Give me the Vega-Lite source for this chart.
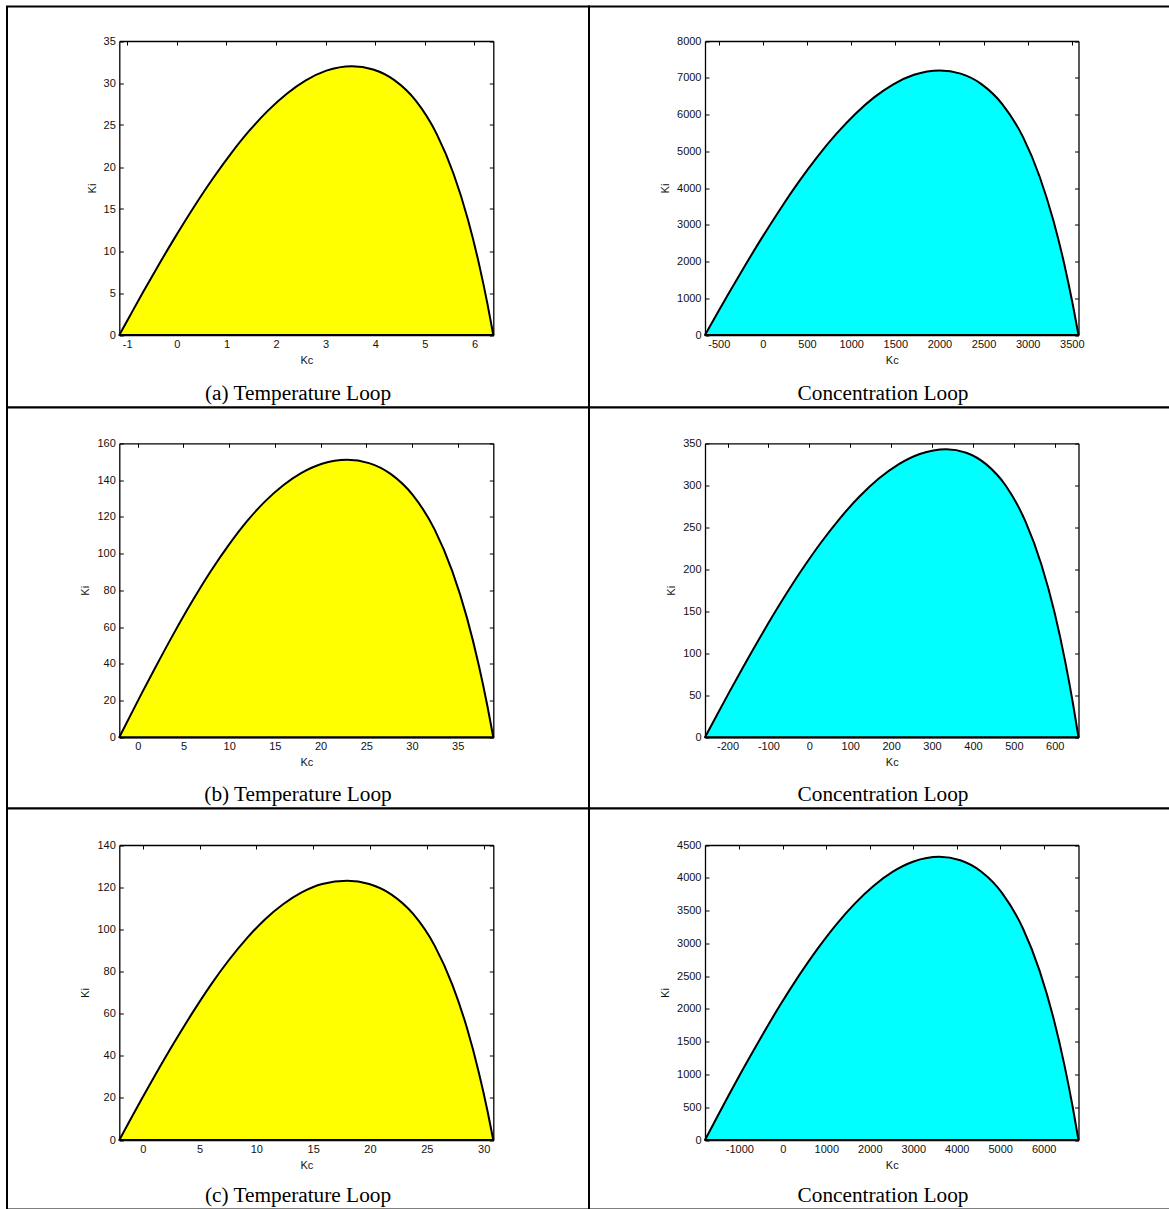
{
  "$schema": "https://vega.github.io/schema/vega-lite/v6.json",
  "padding": {"left": 6, "top": 5.5, "right": 0, "bottom": 0},
  "columns": 2,
  "spacing": 0,
  "bounds": "flush",
  "background": "white",
  "datasets": {
    "aT": [
      {"Kc": -1.16, "Ki": 0}, {"Kc": -0.925, "Ki": 2.51}, {"Kc": -0.691, "Ki": 4.99}, {"Kc": -0.41, "Ki": 7.9},
      {"Kc": -0.034, "Ki": 11.65}, {"Kc": 0.341, "Ki": 15.21}, {"Kc": 0.716, "Ki": 18.54}, {"Kc": 1.091, "Ki": 21.6},
      {"Kc": 1.466, "Ki": 24.35}, {"Kc": 1.842, "Ki": 26.74}, {"Kc": 2.217, "Ki": 28.73}, {"Kc": 2.592, "Ki": 30.29},
      {"Kc": 3.014, "Ki": 31.47}, {"Kc": 3.53, "Ki": 32.0}, {"Kc": 3.958, "Ki": 31.61}, {"Kc": 4.385, "Ki": 30.34},
      {"Kc": 4.813, "Ki": 27.93}, {"Kc": 5.24, "Ki": 23.92}, {"Kc": 5.582, "Ki": 19.14}, {"Kc": 5.867, "Ki": 13.78},
      {"Kc": 6.095, "Ki": 8.38}, {"Kc": 6.266, "Ki": 3.59}, {"Kc": 6.38, "Ki": 0}
    ],
    "aC": [
      {"Kc": -656, "Ki": 0}, {"Kc": -523, "Ki": 565}, {"Kc": -390, "Ki": 1123}, {"Kc": -230, "Ki": 1778},
      {"Kc": -17, "Ki": 2622}, {"Kc": 196, "Ki": 3423}, {"Kc": 408, "Ki": 4172}, {"Kc": 621, "Ki": 4861},
      {"Kc": 834, "Ki": 5478}, {"Kc": 1047, "Ki": 6016}, {"Kc": 1260, "Ki": 6465}, {"Kc": 1473, "Ki": 6816},
      {"Kc": 1712, "Ki": 7080}, {"Kc": 2005, "Ki": 7200}, {"Kc": 2241, "Ki": 7112}, {"Kc": 2476, "Ki": 6827},
      {"Kc": 2712, "Ki": 6285}, {"Kc": 2948, "Ki": 5383}, {"Kc": 3136, "Ki": 4307}, {"Kc": 3293, "Ki": 3100},
      {"Kc": 3419, "Ki": 1886}, {"Kc": 3513, "Ki": 808}, {"Kc": 3576, "Ki": 0}
    ],
    "bT": [
      {"Kc": -2.02, "Ki": 0}, {"Kc": -0.774, "Ki": 12.2}, {"Kc": 0.472, "Ki": 24.3}, {"Kc": 1.967, "Ki": 38.4},
      {"Kc": 3.961, "Ki": 56.7}, {"Kc": 5.954, "Ki": 74.0}, {"Kc": 7.948, "Ki": 90.1}, {"Kc": 9.942, "Ki": 104.6},
      {"Kc": 11.935, "Ki": 117.5}, {"Kc": 13.929, "Ki": 128.4}, {"Kc": 15.922, "Ki": 137.2}, {"Kc": 17.916, "Ki": 143.9},
      {"Kc": 20.159, "Ki": 148.9}, {"Kc": 22.9, "Ki": 151}, {"Kc": 25.3, "Ki": 149.2}, {"Kc": 27.7, "Ki": 143.2},
      {"Kc": 30.1, "Ki": 131.8}, {"Kc": 32.5, "Ki": 112.9}, {"Kc": 34.42, "Ki": 90.3}, {"Kc": 36.02, "Ki": 65.0},
      {"Kc": 37.3, "Ki": 39.5}, {"Kc": 38.26, "Ki": 16.9}, {"Kc": 38.9, "Ki": 0}
    ],
    "bC": [
      {"Kc": -255, "Ki": 0}, {"Kc": -225.5, "Ki": 26.9}, {"Kc": -196, "Ki": 53.5}, {"Kc": -160.6, "Ki": 84.7},
      {"Kc": -113.4, "Ki": 124.9}, {"Kc": -66.2, "Ki": 163.1}, {"Kc": -19, "Ki": 198.8}, {"Kc": 28.2, "Ki": 231.6},
      {"Kc": 75.4, "Ki": 261.0}, {"Kc": 122.6, "Ki": 286.6}, {"Kc": 169.8, "Ki": 308.0}, {"Kc": 217, "Ki": 324.7},
      {"Kc": 270.1, "Ki": 337.3}, {"Kc": 335, "Ki": 343}, {"Kc": 383.5, "Ki": 338.8}, {"Kc": 431.9, "Ki": 325.2},
      {"Kc": 480.4, "Ki": 299.4}, {"Kc": 528.8, "Ki": 256.4}, {"Kc": 567.6, "Ki": 205.2}, {"Kc": 599.9, "Ki": 147.7},
      {"Kc": 625.7, "Ki": 89.8}, {"Kc": 645.1, "Ki": 38.5}, {"Kc": 658, "Ki": 0}
    ],
    "cT": [
      {"Kc": -2.06, "Ki": 0}, {"Kc": -1.057, "Ki": 9.95}, {"Kc": -0.054, "Ki": 19.8}, {"Kc": 1.15, "Ki": 31.3},
      {"Kc": 2.754, "Ki": 46.1}, {"Kc": 4.359, "Ki": 60.2}, {"Kc": 5.964, "Ki": 73.4}, {"Kc": 7.569, "Ki": 85.3},
      {"Kc": 9.174, "Ki": 95.8}, {"Kc": 10.778, "Ki": 104.8}, {"Kc": 12.383, "Ki": 112.0}, {"Kc": 13.988, "Ki": 117.5},
      {"Kc": 15.793, "Ki": 121.5}, {"Kc": 18.0, "Ki": 123}, {"Kc": 19.93, "Ki": 121.5}, {"Kc": 21.86, "Ki": 116.6},
      {"Kc": 23.78, "Ki": 107.4}, {"Kc": 25.71, "Ki": 92.0}, {"Kc": 27.25, "Ki": 73.6}, {"Kc": 28.54, "Ki": 53.0},
      {"Kc": 29.57, "Ki": 32.2}, {"Kc": 30.34, "Ki": 13.8}, {"Kc": 30.85, "Ki": 0}
    ],
    "cC": [
      {"Kc": -1790, "Ki": 0}, {"Kc": -1520, "Ki": 339}, {"Kc": -1251, "Ki": 674}, {"Kc": -928, "Ki": 1067},
      {"Kc": -496, "Ki": 1573}, {"Kc": -65, "Ki": 2054}, {"Kc": 366, "Ki": 2503}, {"Kc": 797, "Ki": 2916},
      {"Kc": 1228, "Ki": 3287}, {"Kc": 1660, "Ki": 3610}, {"Kc": 2091, "Ki": 3879}, {"Kc": 2522, "Ki": 4089},
      {"Kc": 3007, "Ki": 4248}, {"Kc": 3600, "Ki": 4320}, {"Kc": 4080, "Ki": 4267}, {"Kc": 4560, "Ki": 4096},
      {"Kc": 5040, "Ki": 3771}, {"Kc": 5520, "Ki": 3230}, {"Kc": 5904, "Ki": 2584}, {"Kc": 6224, "Ki": 1860},
      {"Kc": 6480, "Ki": 1131}, {"Kc": 6672, "Ki": 485}, {"Kc": 6800, "Ki": 0}
    ]
  },
  "concat": [
    {
      "width": 582, "height": 401,
      "title": {"text": "(a) Temperature Loop"},
      "data": {"name": "aT"},
      "layer": [
        {"mark": {"type": "area", "color": "#ffff00", "stroke": "#000000", "strokeWidth": 2, "strokeJoin": "round", "interpolate": "monotone"},
         "encoding": {
           "x": {"field": "Kc", "type": "quantitative", "scale": {"domain": [-1.16, 6.38], "range": [112.3, 486.3], "nice": false, "zero": false},
                 "axis": {"orient": "bottom", "offset": -72.5, "values": [-1, 0, 1, 2, 3, 4, 5, 6], "title": "Kc", "labelPadding": 7, "titlePadding": 5}},
           "y": {"field": "Ki", "type": "quantitative", "scale": {"domain": [0, 35], "range": [328.5, 34.5], "nice": false, "zero": false},
                 "axis": {"orient": "left", "offset": -112.3, "values": [0, 5, 10, 15, 20, 25, 30, 35], "title": "Ki"}}
         }},
        {"mark": {"type": "line", "opacity": 0},
         "encoding": {
           "x": {"field": "Kc", "type": "quantitative", "axis": {"orient": "top", "offset": -34.5, "values": [-1, 0, 1, 2, 3, 4, 5, 6], "labels": false, "title": null}},
           "y": {"field": "Ki", "type": "quantitative", "axis": {"orient": "right", "offset": -95.7, "values": [0, 5, 10, 15, 20, 25, 30, 35], "labels": false, "title": null}}
         }}
      ]
    },
    {
      "width": 588, "height": 401,
      "title": {"text": "Concentration Loop"},
      "data": {"name": "aC"},
      "layer": [
        {"mark": {"type": "area", "color": "#00ffff", "stroke": "#000000", "strokeWidth": 2, "strokeJoin": "round", "interpolate": "monotone"},
         "encoding": {
           "x": {"field": "Kc", "type": "quantitative", "scale": {"domain": [-656, 3576], "range": [116, 489.5], "nice": false, "zero": false},
                 "axis": {"orient": "bottom", "offset": -72.5, "values": [-500, 0, 500, 1000, 1500, 2000, 2500, 3000, 3500], "title": "Kc", "labelPadding": 7, "titlePadding": 5}},
           "y": {"field": "Ki", "type": "quantitative", "scale": {"domain": [0, 8000], "range": [328.5, 34.5], "nice": false, "zero": false},
                 "axis": {"orient": "left", "offset": -116, "values": [0, 1000, 2000, 3000, 4000, 5000, 6000, 7000, 8000], "title": "Ki"}}
         }},
        {"mark": {"type": "line", "opacity": 0},
         "encoding": {
           "x": {"field": "Kc", "type": "quantitative", "axis": {"orient": "top", "offset": -34.5, "values": [-500, 0, 500, 1000, 1500, 2000, 2500, 3000, 3500], "labels": false, "title": null}},
           "y": {"field": "Ki", "type": "quantitative", "axis": {"orient": "right", "offset": -98.5, "values": [0, 1000, 2000, 3000, 4000, 5000, 6000, 7000, 8000], "labels": false, "title": null}}
         }}
      ]
    },
    {
      "width": 582, "height": 401,
      "title": {"text": "(b) Temperature Loop"},
      "data": {"name": "bT"},
      "layer": [
        {"mark": {"type": "area", "color": "#ffff00", "stroke": "#000000", "strokeWidth": 2, "strokeJoin": "round", "interpolate": "monotone"},
         "encoding": {
           "x": {"field": "Kc", "type": "quantitative", "scale": {"domain": [-2.02, 38.9], "range": [112.3, 486.3], "nice": false, "zero": false},
                 "axis": {"orient": "bottom", "offset": -71.2, "values": [0, 5, 10, 15, 20, 25, 30, 35], "title": "Kc", "labelPadding": 7, "titlePadding": 5}},
           "y": {"field": "Ki", "type": "quantitative", "scale": {"domain": [0, 160], "range": [329.8, 35.8], "nice": false, "zero": false},
                 "axis": {"orient": "left", "offset": -112.3, "values": [0, 20, 40, 60, 80, 100, 120, 140, 160], "title": "Ki"}}
         }},
        {"mark": {"type": "line", "opacity": 0},
         "encoding": {
           "x": {"field": "Kc", "type": "quantitative", "axis": {"orient": "top", "offset": -35.8, "values": [0, 5, 10, 15, 20, 25, 30, 35], "labels": false, "title": null}},
           "y": {"field": "Ki", "type": "quantitative", "axis": {"orient": "right", "offset": -95.7, "values": [0, 20, 40, 60, 80, 100, 120, 140, 160], "labels": false, "title": null}}
         }}
      ]
    },
    {
      "width": 588, "height": 401,
      "title": {"text": "Concentration Loop"},
      "data": {"name": "bC"},
      "layer": [
        {"mark": {"type": "area", "color": "#00ffff", "stroke": "#000000", "strokeWidth": 2, "strokeJoin": "round", "interpolate": "monotone"},
         "encoding": {
           "x": {"field": "Kc", "type": "quantitative", "scale": {"domain": [-255, 658], "range": [116, 489.5], "nice": false, "zero": false},
                 "axis": {"orient": "bottom", "offset": -71.2, "values": [-200, -100, 0, 100, 200, 300, 400, 500, 600], "title": "Kc", "labelPadding": 7, "titlePadding": 5}},
           "y": {"field": "Ki", "type": "quantitative", "scale": {"domain": [0, 350], "range": [329.8, 35.8], "nice": false, "zero": false},
                 "axis": {"orient": "left", "offset": -116, "values": [0, 50, 100, 150, 200, 250, 300, 350], "title": "Ki"}}
         }},
        {"mark": {"type": "line", "opacity": 0},
         "encoding": {
           "x": {"field": "Kc", "type": "quantitative", "axis": {"orient": "top", "offset": -35.8, "values": [-200, -100, 0, 100, 200, 300, 400, 500, 600], "labels": false, "title": null}},
           "y": {"field": "Ki", "type": "quantitative", "axis": {"orient": "right", "offset": -98.5, "values": [0, 50, 100, 150, 200, 250, 300, 350], "labels": false, "title": null}}
         }}
      ]
    },
    {
      "width": 582, "height": 401,
      "title": {"text": "(c) Temperature Loop"},
      "data": {"name": "cT"},
      "layer": [
        {"mark": {"type": "area", "color": "#ffff00", "stroke": "#000000", "strokeWidth": 2, "strokeJoin": "round", "interpolate": "monotone"},
         "encoding": {
           "x": {"field": "Kc", "type": "quantitative", "scale": {"domain": [-2.06, 30.85], "range": [112.3, 486.3], "nice": false, "zero": false},
                 "axis": {"orient": "bottom", "offset": -69.5, "values": [0, 5, 10, 15, 20, 25, 30], "title": "Kc", "labelPadding": 7, "titlePadding": 5}},
           "y": {"field": "Ki", "type": "quantitative", "scale": {"domain": [0, 140], "range": [331.5, 36.5], "nice": false, "zero": false},
                 "axis": {"orient": "left", "offset": -112.3, "values": [0, 20, 40, 60, 80, 100, 120, 140], "title": "Ki"}}
         }},
        {"mark": {"type": "line", "opacity": 0},
         "encoding": {
           "x": {"field": "Kc", "type": "quantitative", "axis": {"orient": "top", "offset": -36.5, "values": [0, 5, 10, 15, 20, 25, 30], "labels": false, "title": null}},
           "y": {"field": "Ki", "type": "quantitative", "axis": {"orient": "right", "offset": -95.7, "values": [0, 20, 40, 60, 80, 100, 120, 140], "labels": false, "title": null}}
         }}
      ]
    },
    {
      "width": 588, "height": 401,
      "title": {"text": "Concentration Loop"},
      "data": {"name": "cC"},
      "layer": [
        {"mark": {"type": "area", "color": "#00ffff", "stroke": "#000000", "strokeWidth": 2, "strokeJoin": "round", "interpolate": "monotone"},
         "encoding": {
           "x": {"field": "Kc", "type": "quantitative", "scale": {"domain": [-1790, 6800], "range": [116, 489.5], "nice": false, "zero": false},
                 "axis": {"orient": "bottom", "offset": -69.5, "values": [-1000, 0, 1000, 2000, 3000, 4000, 5000, 6000], "title": "Kc", "labelPadding": 7, "titlePadding": 5}},
           "y": {"field": "Ki", "type": "quantitative", "scale": {"domain": [0, 4500], "range": [331.5, 36.5], "nice": false, "zero": false},
                 "axis": {"orient": "left", "offset": -116, "values": [0, 500, 1000, 1500, 2000, 2500, 3000, 3500, 4000, 4500], "title": "Ki"}}
         }},
        {"mark": {"type": "line", "opacity": 0},
         "encoding": {
           "x": {"field": "Kc", "type": "quantitative", "axis": {"orient": "top", "offset": -36.5, "values": [-1000, 0, 1000, 2000, 3000, 4000, 5000, 6000], "labels": false, "title": null}},
           "y": {"field": "Ki", "type": "quantitative", "axis": {"orient": "right", "offset": -98.5, "values": [0, 500, 1000, 1500, 2000, 2500, 3000, 3500, 4000, 4500], "labels": false, "title": null}}
         }}
      ]
    }
  ],
  "config": {
    "view": {"stroke": "#000000", "strokeWidth": 2, "fill": "white"},
    "title": {"orient": "bottom", "offset": -25, "font": "Liberation Serif", "fontSize": 21.3, "fontWeight": "normal", "color": "#000000", "anchor": "middle"},
    "axis": {
      "grid": false, "domainColor": "#000000", "domainWidth": 1.3, "tickColor": "#000000", "tickSize": -4, "tickWidth": 1,
      "labelFont": "Liberation Sans", "labelFontSize": 11, "labelColor": "#111111", "labelPadding": 8,
      "labelFlush": false, "labelOverlap": false, "labelExpr": "'' + datum.value",
      "titleFont": "Liberation Sans", "titleFontSize": 11, "titleFontWeight": "normal", "titleColor": "#111111", "titlePadding": 6,
      "zindex": 1
    }
  }
}
